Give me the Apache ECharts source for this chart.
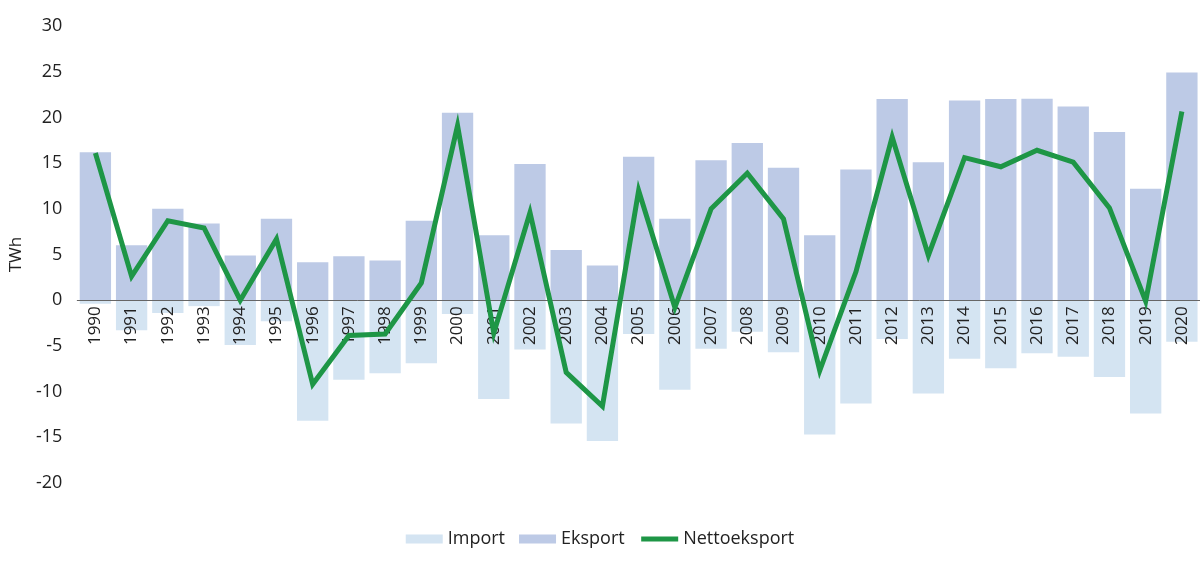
<!DOCTYPE html>
<html lang="no">
<head>
    <meta charset="UTF-8">
    <title>Import, eksport og nettoeksport</title>
    <style>
        html, body { margin: 0; padding: 0; background: #fff; }
    </style>
</head>
<body>
<div id="main" style="width:1200px;height:561px"></div>
<script src="https://cdn.jsdelivr.net/npm/echarts@6/dist/echarts.min.js"></script>
<script>
    // år
    var years = ['1990', '1991', '1992', '1993', '1994', '1995', '1996', '1997', '1998', '1999',
        '2000', '2001', '2002', '2003', '2004', '2005', '2006', '2007', '2008', '2009',
        '2010', '2011', '2012', '2013', '2014', '2015', '2016', '2017', '2018', '2019', '2020'];
    // TWh, lest av figuren
    var importData = [-0.4, -3.3, -1.4, -0.65, -4.9, -2.3, -13.2, -8.7, -8.0, -6.9,
        -1.5, -10.8, -5.4, -13.5, -15.4, -3.7, -9.8, -5.3, -3.45, -5.7,
        -14.7, -11.3, -4.25, -10.2, -6.4, -7.45, -5.8, -6.2, -8.4, -12.4, -4.55];
    var eksportData = [16.2, 6.0, 10.0, 8.4, 4.9, 8.9, 4.15, 4.8, 4.35, 8.7,
        20.5, 7.1, 14.9, 5.5, 3.8, 15.7, 8.9, 15.3, 17.2, 14.5,
        7.1, 14.3, 22.0, 15.1, 21.85, 22.0, 22.05, 21.2, 18.4, 12.2, 24.9];
    var nettoData = [16.1, 2.6, 8.7, 7.9, 0.0, 6.7, -9.2, -3.85, -3.7, 1.9,
        19.1, -3.6, 9.6, -7.9, -11.6, 12.0, -0.8, 10.0, 13.9, 8.9,
        -7.7, 3.1, 17.85, 4.9, 15.6, 14.6, 16.4, 15.1, 10.1, -0.1, 20.65];
    var yTicks = [-20, -15, -10, -5, 0, 5, 10, 15, 20, 25, 30];

    var font = '"Open Sans", "Noto Sans", sans-serif';
    var gridTop = 26, gridBottom = 78, chartHeight = 561;
    var yMin = yTicks[0], yMax = yTicks[yTicks.length - 1];
    // flytt x-aksen (linje og årstall) opp til null-linja
    var plotHeight = chartHeight - gridTop - gridBottom;
    var zeroOffset = -plotHeight * (0 - yMin) / (yMax - yMin);

    var myChart = echarts.init(document.getElementById('main'));

    myChart.setOption({
        backgroundColor: '#fff',
        animation: false,
        textStyle: { fontFamily: font },
        grid: {
            left: 68,
            right: 0,
            top: gridTop,
            bottom: gridBottom
        },
        legend: {
            left: 'center',
            top: 525,
            itemWidth: 37,
            itemHeight: 9,
            itemGap: 14,
            textStyle: { color: '#222', fontSize: 18, fontFamily: font },
            data: [
                { name: 'Import', icon: 'rect' },
                { name: 'Eksport', icon: 'rect' },
                {
                    name: 'Nettoeksport',
                    lineStyle: { width: 5, color: '#1e9646' },
                    itemStyle: { opacity: 0, color: 'rgba(0,0,0,0)', borderWidth: 0 }
                }
            ]
        },
        xAxis: {
            type: 'category',
            data: years,
            position: 'bottom',
            offset: zeroOffset,
            z: 3,
            axisLine: { onZero: false, lineStyle: { color: '#666', width: 1 } },
            axisTick: { show: false },
            axisLabel: {
                rotate: 90,
                margin: 6,
                color: '#222',
                fontSize: 17,
                fontFamily: font
            }
        },
        yAxis: {
            type: 'value',
            name: 'TWh',
            nameLocation: 'middle',
            nameGap: 50,
            nameRotate: 90,
            nameTextStyle: { color: '#222', fontSize: 17, fontFamily: font },
            min: yMin,
            max: yMax,
            interval: 5,
            axisLine: { show: false },
            axisTick: { show: false },
            splitLine: { show: false },
            axisLabel: {
                margin: 15,
                color: '#222',
                fontSize: 18,
                fontFamily: font
            }
        },
        series: [
            {
                name: 'Import',
                type: 'bar',
                data: importData,
                barGap: '-100%',
                barCategoryGap: '13.5%',
                itemStyle: { color: '#d4e4f2' }
            },
            {
                name: 'Eksport',
                type: 'bar',
                data: eksportData,
                barGap: '-100%',
                barCategoryGap: '13.5%',
                itemStyle: { color: '#bdcae6' }
            },
            {
                name: 'Nettoeksport',
                type: 'line',
                data: nettoData,
                symbol: 'none',
                z: 5,
                lineStyle: { color: '#1e9646', width: 5, join: 'miter' },
                itemStyle: { color: '#1e9646' }
            }
        ]
    });
</script>
</body>
</html>
